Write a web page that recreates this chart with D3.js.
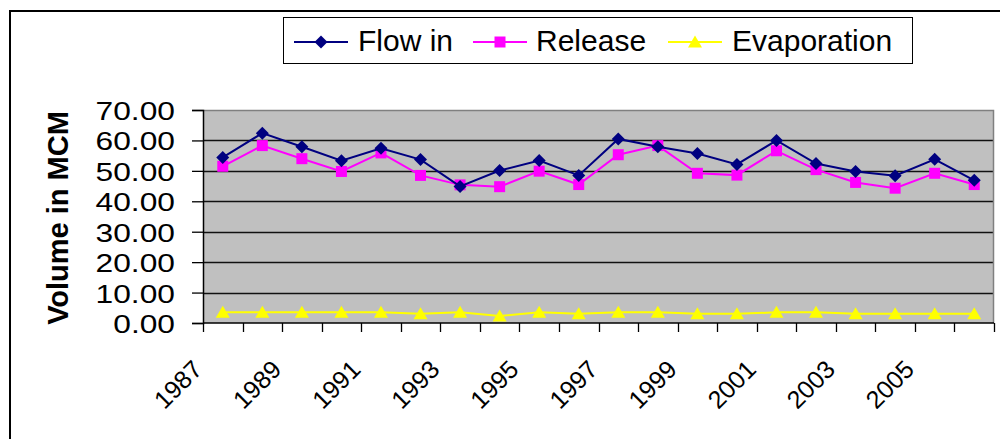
<!DOCTYPE html>
<html>
<head>
<meta charset="utf-8">
<script src="https://cdn.jsdelivr.net/npm/d3@7"></script>
<style>
  html, body { margin: 0; padding: 0; background: #fff; }
  svg { display: block; font-family: "Liberation Sans", Arial, sans-serif; }
</style>
</head>
<body>
<svg id="chart" width="1000" height="439"></svg>
<script>
// Yearly reservoir volumes (million cubic metres)
const years = [1987, 1988, 1989, 1990, 1991, 1992, 1993, 1994, 1995, 1996,
               1997, 1998, 1999, 2000, 2001, 2002, 2003, 2004, 2005, 2006];
const flowIn = [54.4, 62.4, 57.9, 53.3, 57.4, 53.7, 44.9, 50.1, 53.4, 48.5,
                60.5, 57.9, 55.7, 52.1, 60.0, 52.4, 49.8, 48.4, 53.8, 46.9];
const release = [51.5, 58.3, 54.0, 49.8, 55.9, 48.5, 45.4, 44.8, 49.9, 45.5,
                 55.3, 58.3, 49.2, 48.6, 56.6, 50.4, 46.2, 44.3, 49.2, 45.5];
const evaporation = [3.5, 3.5, 3.5, 3.5, 3.5, 3.0, 3.5, 2.3, 3.5, 3.0,
                     3.5, 3.5, 3.0, 3.0, 3.5, 3.5, 3.0, 3.0, 3.0, 3.0];
const yTicks = [0, 10, 20, 30, 40, 50, 60, 70];
const yearLabels = [1987, 1989, 1991, 1993, 1995, 1997, 1999, 2001, 2003, 2005];

const seriesNames = ["Flow in", "Release", "Evaporation"];
const seriesColors = ["#000080", "#FF00FF", "#FFFF00"];
const seriesMarkers = ["diamond", "square", "triangle"];

const svg = d3.select("#chart");

// plot area
const plotLeft = 203, plotRight = 994, plotTop = 110, plotBottom = 323;

const x = d3.scaleBand().domain(years).range([plotLeft, plotRight]).paddingInner(0).paddingOuter(0);
const y = d3.scaleLinear().domain([0, 70]).range([plotBottom, plotTop]);

// outer chart frame
svg.append("rect")
  .attr("x", 10).attr("y", 11).attr("width", 1000).attr("height", 500)
  .attr("fill", "none").attr("stroke", "#000").attr("stroke-width", 2);

// plot background
svg.append("rect")
  .attr("x", plotLeft).attr("y", plotTop)
  .attr("width", plotRight - plotLeft).attr("height", plotBottom - plotTop)
  .attr("fill", "#C0C0C0");

// horizontal gridlines
svg.append("g")
  .selectAll("line")
  .data(yTicks.filter(d => d > 0 && d < 70))
  .join("line")
  .attr("x1", plotLeft).attr("x2", plotRight)
  .attr("y1", d => Math.round(y(d)) + 0.5).attr("y2", d => Math.round(y(d)) + 0.5)
  .attr("stroke", "#111").attr("stroke-width", 1.3);

// plot border top/right
svg.append("path")
  .attr("d", `M${plotLeft},${plotTop + 0.5}H${plotRight - 0.5}V${plotBottom}`)
  .attr("fill", "none").attr("stroke", "#808080").attr("stroke-width", 1.5);

// y axis
const yAxis = d3.axisLeft(y).tickValues(yTicks).tickSize(11).tickFormat("");
const gy = svg.append("g").attr("transform", `translate(${plotLeft},0)`).call(yAxis);
gy.select(".domain").attr("stroke", "#000").attr("stroke-width", 1.5);
gy.selectAll(".tick line").attr("stroke", "#000").attr("stroke-width", 1.3);

svg.append("g")
  .selectAll("text")
  .data(yTicks)
  .join("text")
  .attr("transform", d => `translate(175,${y(d) + 10}) scale(1.27,1)`)
  .attr("text-anchor", "end")
  .attr("font-size", 25)
  .attr("fill", "#000")
  .text(d => d3.format(".2f")(d));

// x axis with ticks between categories
const boundaries = years.map(d => x(d)).concat([plotRight]);
svg.append("line")
  .attr("x1", plotLeft).attr("x2", plotRight).attr("y1", plotBottom).attr("y2", plotBottom)
  .attr("stroke", "#000").attr("stroke-width", 1.5);
svg.append("g")
  .selectAll("line")
  .data(boundaries)
  .join("line")
  .attr("x1", d => Math.round(d) + 0.5).attr("x2", d => Math.round(d) + 0.5)
  .attr("y1", plotBottom).attr("y2", plotBottom + 9)
  .attr("stroke", "#000").attr("stroke-width", 1.3);

svg.append("g")
  .selectAll("text")
  .data(yearLabels)
  .join("text")
  .attr("transform", d => `translate(${x(d) + x.bandwidth() / 2 - 19},371) rotate(-45)`)
  .attr("text-anchor", "end")
  .attr("font-size", 25)
  .attr("fill", "#000")
  .text(d => d);

// y axis title
svg.append("text")
  .attr("transform", "translate(68,218) rotate(-90)")
  .attr("text-anchor", "middle")
  .attr("font-size", 29)
  .attr("font-weight", "bold")
  .attr("fill", "#000")
  .text("Volume in MCM");

// marker shapes
function markerPath(type) {
  if (type === "diamond") return "M0,-6.5L6.5,0L0,6.5L-6.5,0Z";
  if (type === "square") return "M-5.5,-5.5H5.5V5.5H-5.5Z";
  return "M0,-6.5L7,5.5L-7,5.5Z";
}

const allSeries = [flowIn, release, evaporation];
const cx = d => x(d) + x.bandwidth() / 2;
const line = d3.line().x(d => cx(d.year)).y(d => y(d.value));

// draw series: evaporation first, then release, then flow in on top
[2, 1, 0].forEach(si => {
  const pts = years.map((yr, i) => ({ year: yr, value: allSeries[si][i] }));
  const g = svg.append("g");
  g.append("path")
    .attr("d", line(pts))
    .attr("fill", "none")
    .attr("stroke", seriesColors[si])
    .attr("stroke-width", 2);
  g.selectAll("path.m")
    .data(pts)
    .join("path")
    .attr("class", "m")
    .attr("transform", d => `translate(${cx(d.year)},${y(d.value)})`)
    .attr("d", markerPath(seriesMarkers[si]))
    .attr("fill", seriesColors[si]);
});

// legend
const legend = svg.append("g");
legend.append("rect")
  .attr("x", 283.5).attr("y", 17.5).attr("width", 629).attr("height", 46)
  .attr("fill", "#fff").attr("stroke", "#000").attr("stroke-width", 1);

const legendItems = [
  { lineX: 294, textX: 358 },
  { lineX: 473, textX: 536 },
  { lineX: 668, textX: 732 }
];
legendItems.forEach((it, i) => {
  legend.append("line")
    .attr("x1", it.lineX).attr("x2", it.lineX + 54)
    .attr("y1", 42).attr("y2", 42)
    .attr("stroke", seriesColors[i]).attr("stroke-width", 2);
  legend.append("path")
    .attr("transform", `translate(${it.lineX + 27},42)`)
    .attr("d", markerPath(seriesMarkers[i]))
    .attr("fill", seriesColors[i]);
  legend.append("text")
    .attr("x", it.textX).attr("y", 51)
    .attr("font-size", 30)
    .attr("fill", "#000")
    .text(seriesNames[i]);
});
</script>
</body>
</html>
